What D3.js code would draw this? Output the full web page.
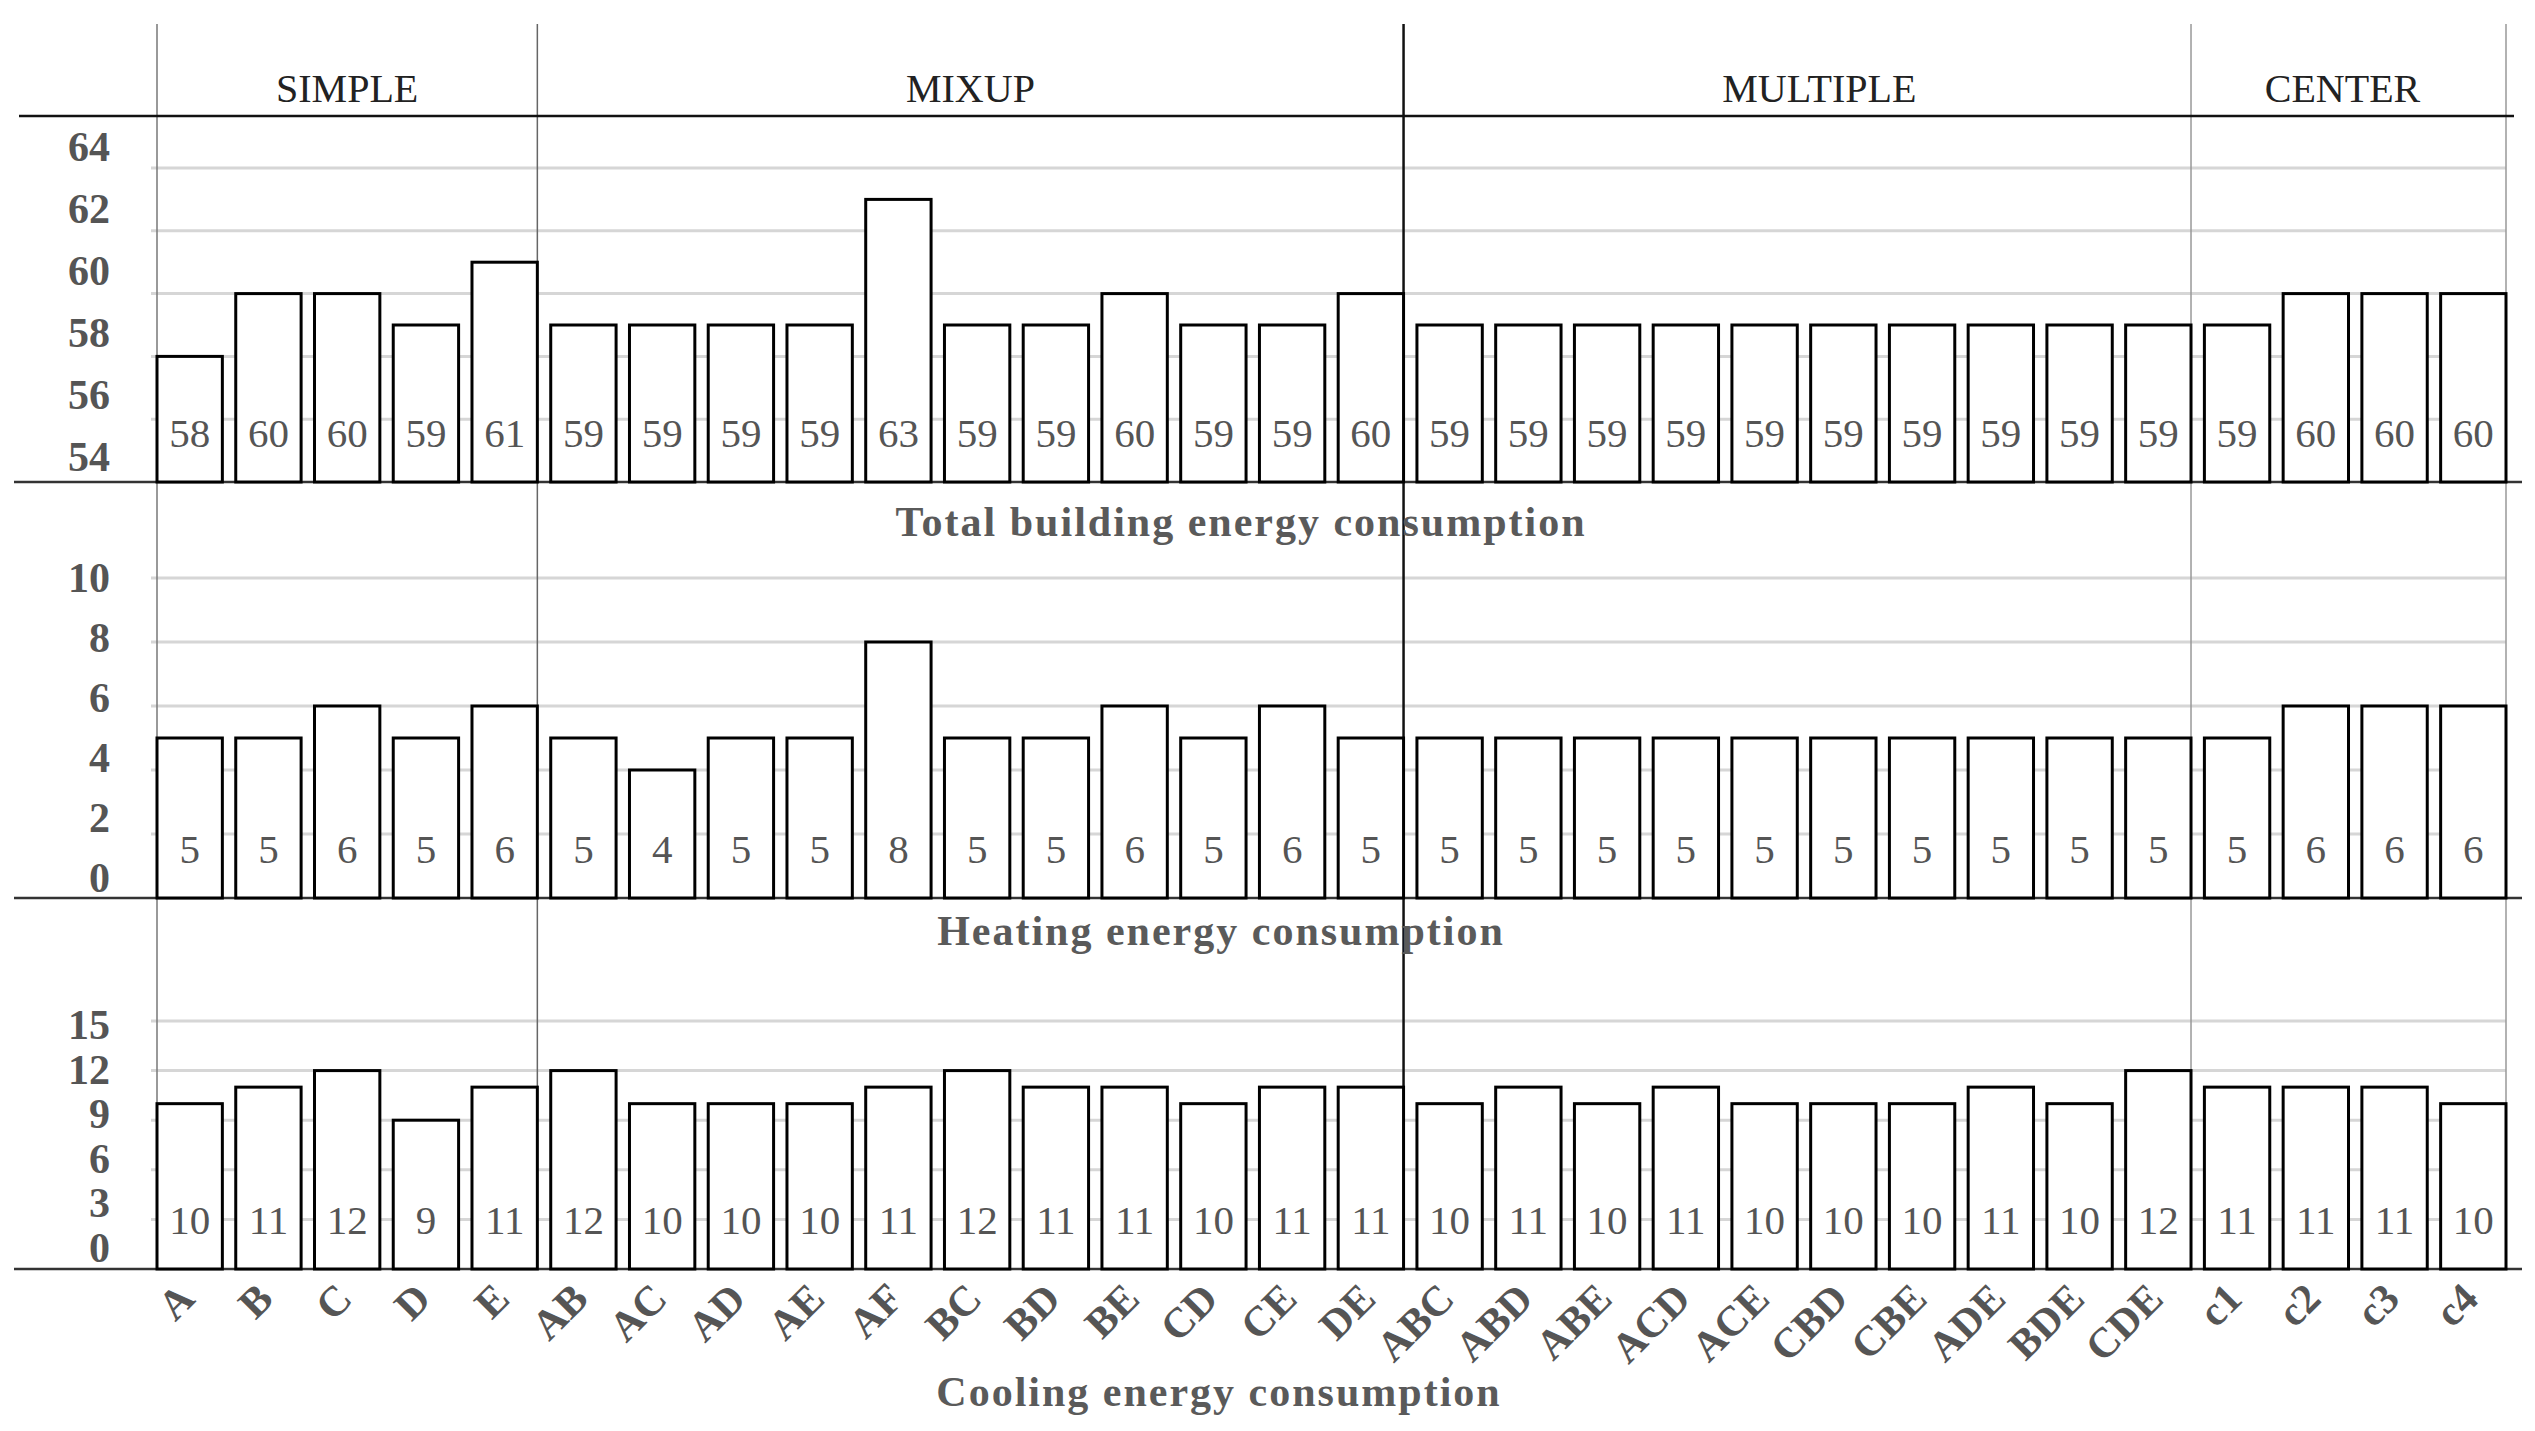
<!DOCTYPE html>
<html>
<head>
<meta charset="utf-8">
<script src="https://cdn.jsdelivr.net/npm/d3@7"></script>
<style>
  body { margin: 0; background: #fff; }
  text { font-family: "Liberation Serif", "Times New Roman", serif; }
</style>
</head>
<body>
<svg id="chart"></svg>
<script>
// Categories and groups
const categories = ["A", "B", "C", "D", "E",
  "AB", "AC", "AD", "AE", "AF", "BC", "BD", "BE", "CD", "CE", "DE",
  "ABC", "ABD", "ABE", "ACD", "ACE", "CBD", "CBE", "ADE", "BDE", "CDE",
  "c1", "c2", "c3", "c4"];
const groupNames = ["SIMPLE", "MIXUP", "MULTIPLE", "CENTER"];
const groupSizes = [5, 11, 10, 4];

// Series values
const totalValues = [58, 60, 60, 59, 61,
  59, 59, 59, 59, 63, 59, 59, 60, 59, 59, 60,
  59, 59, 59, 59, 59, 59, 59, 59, 59, 59,
  59, 60, 60, 60];
const heatingValues = [5, 5, 6, 5, 6,
  5, 4, 5, 5, 8, 5, 5, 6, 5, 6, 5,
  5, 5, 5, 5, 5, 5, 5, 5, 5, 5,
  5, 6, 6, 6];
const coolingValues = [10, 11, 12, 9, 11,
  12, 10, 10, 10, 11, 12, 11, 11, 10, 11, 11,
  10, 11, 10, 11, 10, 10, 10, 11, 10, 12,
  11, 11, 11, 10];

// Tick labels
const totalTicks = [54, 56, 58, 60, 62, 64];
const heatingTicks = [0, 2, 4, 6, 8, 10];
const coolingTicks = [0, 3, 6, 9, 12, 15];

const panelTitles = ["Total building energy consumption",
  "Heating energy consumption", "Cooling energy consumption"];

const W = 2535, H = 1431;
const plotLeft = 157, plotRight = 2506;

const svg = d3.select("#chart").attr("width", W).attr("height", H);

// shared x scale
const x = d3.scaleBand()
  .domain(categories)
  .range([plotLeft, plotRight])
  .paddingInner(0.17)
  .paddingOuter(0);

// panel layout (scales for bars and a separate one for the axis text)
const panels = [
  { values: totalValues, ticks: totalTicks, domain: [54, 64],
    range: [482, 168], labelRange: [457, 147], titleX: 1241, titleY: 522 },
  { values: heatingValues, ticks: heatingTicks, domain: [0, 10],
    range: [898, 578], labelRange: [878, 578], titleX: 1221, titleY: 931 },
  { values: coolingValues, ticks: coolingTicks, domain: [0, 15],
    range: [1269, 1021], labelRange: [1248, 1025], titleX: 1219, titleY: 1392 },
];

// gridlines first
panels.forEach((p) => {
  p.y = d3.scaleLinear().domain(p.domain).range(p.range);
  p.ly = d3.scaleLinear().domain(p.domain).range(p.labelRange);
  svg.append("g")
    .selectAll("line")
    .data(p.ticks.slice(1))
    .enter()
    .append("line")
    .attr("x1", plotLeft - 6)
    .attr("x2", plotRight)
    .attr("y1", (d) => p.y(d))
    .attr("y2", (d) => p.y(d))
    .attr("stroke", "#d6d6d6")
    .attr("stroke-width", 3);
});

// group dividers
let idx = 0;
const dividers = [{ x: plotLeft, color: "#777", w: 1.5 }];
const dividerColors = ["#666", "#111", "#999", "#999"];
const groupSpans = [];
groupSizes.forEach((n, i) => {
  const last = categories[idx + n - 1];
  const x1 = x(last) + x.bandwidth();
  groupSpans.push([i === 0 ? plotLeft : groupSpans[i - 1][1], x1]);
  dividers.push({ x: x1, color: dividerColors[i], w: i === 1 ? 2.5 : 1.5 });
  idx += n;
});

svg.append("g")
  .selectAll("line")
  .data(dividers)
  .enter()
  .append("line")
  .attr("x1", (d) => d.x)
  .attr("x2", (d) => d.x)
  .attr("y1", 24)
  .attr("y2", 1269)
  .attr("stroke", (d) => d.color)
  .attr("stroke-width", (d) => d.w);

// header row
svg.append("line")
  .attr("x1", 19).attr("x2", 2514)
  .attr("y1", 116).attr("y2", 116)
  .attr("stroke", "#111").attr("stroke-width", 2.5);

const headerShift = [0, 0, 22, -6];
svg.append("g")
  .selectAll("text")
  .data(groupNames)
  .enter()
  .append("text")
  .attr("x", (d, i) => (groupSpans[i][0] + groupSpans[i][1]) / 2 + headerShift[i])
  .attr("y", 88)
  .attr("text-anchor", "middle")
  .attr("dominant-baseline", "central")
  .attr("fill", "#222")
  .style("font-size", "40px")
  .text((d) => d);

// bars, value labels, axes per panel
panels.forEach((p, pi) => {
  const g = svg.append("g");
  const base = p.y(p.domain[0]);

  // baseline
  g.append("line")
    .attr("x1", 14).attr("x2", 2522)
    .attr("y1", base).attr("y2", base)
    .attr("stroke", "#333").attr("stroke-width", 2.5);

  g.selectAll("rect")
    .data(p.values)
    .enter()
    .append("rect")
    .attr("x", (d, i) => x(categories[i]))
    .attr("y", (d) => p.y(d))
    .attr("width", x.bandwidth())
    .attr("height", (d) => base - p.y(d))
    .attr("fill", "#fff")
    .attr("stroke", "#000")
    .attr("stroke-width", 3);

  g.selectAll(".val")
    .data(p.values)
    .enter()
    .append("text")
    .attr("class", "val")
    .attr("x", (d, i) => x(categories[i]) + x.bandwidth() / 2)
    .attr("y", base - 35)
    .attr("text-anchor", "middle")
    .attr("fill", "#555")
    .style("font-size", "41px")
    .text((d) => d);

  // y tick labels
  g.selectAll(".tick")
    .data(p.ticks)
    .enter()
    .append("text")
    .attr("class", "tick")
    .attr("x", 110)
    .attr("y", (d) => p.ly(d))
    .attr("text-anchor", "end")
    .attr("dominant-baseline", "central")
    .attr("fill", "#555")
    .style("font-size", "42px")
    .style("font-weight", "bold")
    .text((d) => d);

  // panel title
  g.append("text")
    .attr("x", p.titleX)
    .attr("y", p.titleY)
    .attr("text-anchor", "middle")
    .attr("dominant-baseline", "central")
    .attr("fill", "#5a5a5a")
    .style("font-size", "42px")
    .style("font-weight", "bold")
    .style("letter-spacing", "2px")
    .text(panelTitles[pi]);
});

// rotated category labels under the last panel
const xBase = panels[2].y(0);
svg.append("g")
  .selectAll("text")
  .data(categories)
  .enter()
  .append("text")
  .attr("transform", (d) =>
    `translate(${x(d) + x.bandwidth() / 2 - 14},${xBase + 11}) rotate(-45)`)
  .attr("text-anchor", "end")
  .attr("dominant-baseline", "hanging")
  .attr("fill", "#555")
  .style("font-size", "42px")
  .style("font-weight", "bold")
  .text((d) => d);
</script>
</body>
</html>
